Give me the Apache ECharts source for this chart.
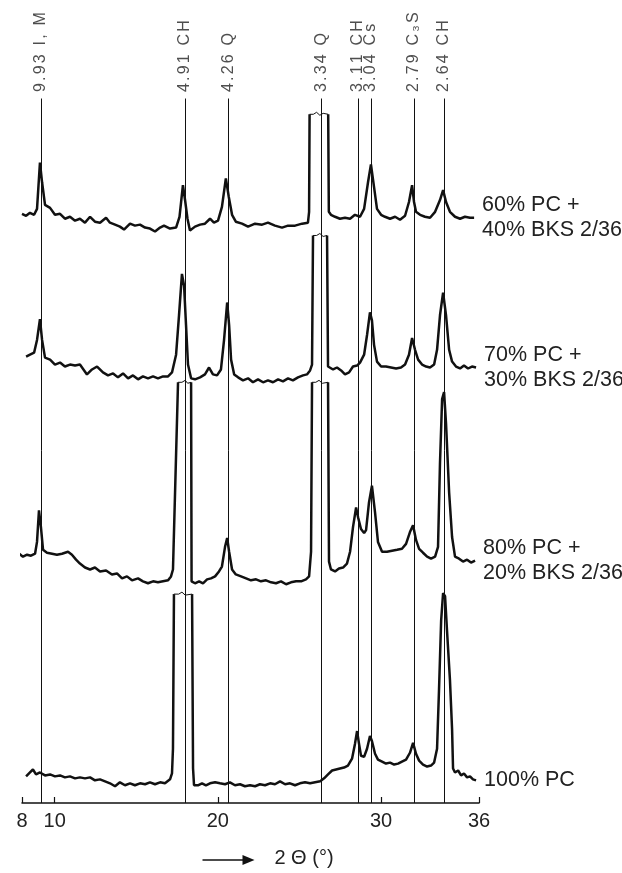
<!DOCTYPE html>
<html>
<head>
<meta charset="utf-8">
<script src="https://cdn.jsdelivr.net/npm/echarts@6/dist/echarts.min.js"></script>
<style>
html, body { margin: 0; padding: 0; background: #fff; }
#main { width: 622px; height: 873px; }
</style>
</head>
<body>
<div id="main"></div>
<script>
// x ticks (2 theta) and reflection positions
var xTicks = [8, 10, 20, 30, 36];
var peakPos = [9.16, 17.99, 20.66, 26.36, 28.59, 29.38, 32.02, 33.86];
var peakNames = ['9.93 I, M', '4.91 CH', '4.26 Q', '3.34 Q', '3.11 CH', '3.04 Cs', '2.79 C\u2083S', '2.64 CH'];
var traceNames = ['60% PC +\n40% BKS 2/36', '70% PC +\n30% BKS 2/36', '80% PC +\n20% BKS 2/36', '100% PC'];

// intensity (stacked, arbitrary units); null = cut peak
var pc60 = [[8.0,598],[8.25,596],[8.49,599],[8.74,597],[8.92,603],[9.10,650],[9.23,630],[9.41,607],[9.72,604],[10.02,597],[10.33,598],[10.63,593],[10.94,595],[11.25,591],[11.55,593],[11.86,589],[12.17,595],[12.47,590],[12.78,589],[13.15,594],[13.39,589],[13.70,587],[14.0,585],[14.25,582],[14.62,588],[14.92,586],[15.23,587],[15.54,584],[15.84,583],[16.15,580],[16.46,584],[16.70,586],[17.07,583],[17.44,584],[17.65,595],[17.86,627],[17.99,612],[18.14,593],[18.29,581],[18.60,585],[18.91,587],[19.21,588],[19.52,593],[19.76,589],[20.01,591],[20.25,605],[20.49,634],[20.67,615],[20.87,597],[21.10,590],[21.48,588],[21.85,585],[22.28,588],[22.71,587],[23.07,589],[23.50,586],[23.93,584],[24.30,586],[24.73,586],[25.16,588],[25.52,589],[25.59,600],[25.62,699],[26.2,null],[26.76,699],[26.80,600],[26.93,597],[27.18,595],[27.48,593],[27.79,594],[28.10,593],[28.40,597],[28.71,595],[28.96,603],[29.20,630],[29.38,648],[29.57,625],[29.75,603],[30.0,597],[30.24,595],[30.55,593],[30.86,595],[31.16,592],[31.47,596],[31.71,610],[31.90,627],[32.02,610],[32.14,600],[32.39,597],[32.69,595],[33.0,594],[33.31,600],[33.61,612],[33.80,622],[33.98,610],[34.22,600],[34.53,595],[34.84,593],[35.14,595],[35.45,594],[35.70,594]];

var pc70 = [[8.25,453],[8.49,455],[8.74,457],[8.92,470],[9.10,491],[9.23,470],[9.41,452],[9.72,450],[10.02,445],[10.33,447],[10.63,443],[10.94,445],[11.25,444],[11.55,445],[11.98,435],[12.29,440],[12.60,443],[12.96,437],[13.27,434],[13.58,436],[13.88,432],[14.19,436],[14.50,431],[14.80,434],[15.11,430],[15.41,433],[15.72,431],[16.03,433],[16.33,431],[16.64,433],[16.95,433],[17.19,437],[17.44,455],[17.62,495],[17.80,537],[17.93,525],[18.05,485],[18.17,445],[18.36,431],[18.60,430],[18.91,432],[19.21,435],[19.46,442],[19.70,435],[19.95,434],[20.19,440],[20.38,470],[20.57,508],[20.69,485],[20.81,450],[21.0,435],[21.24,432],[21.54,429],[21.85,431],[22.15,427],[22.46,430],[22.77,427],[23.07,429],[23.38,427],[23.69,430],[23.99,428],[24.30,431],[24.60,429],[24.91,432],[25.22,434],[25.46,435],[25.65,439],[25.77,445],[25.83,576],[26.2,null],[26.69,576],[26.75,443],[26.81,443],[27.06,440],[27.30,442],[27.55,439],[27.79,435],[28.04,437],[28.28,443],[28.53,444],[28.71,447],[28.96,455],[29.14,475],[29.32,498],[29.44,490],[29.57,465],[29.75,448],[30.0,443],[30.30,443],[30.61,442],[30.92,441],[31.22,442],[31.47,445],[31.71,455],[31.90,472],[32.08,460],[32.27,450],[32.51,445],[32.76,443],[33.0,442],[33.25,445],[33.43,460],[33.61,495],[33.80,518],[33.98,495],[34.17,460],[34.35,448],[34.59,443],[34.84,441],[35.08,444],[35.33,441],[35.57,443],[35.82,442]];

var pc80 = [[6.84,252],[7.08,257],[7.33,253],[7.57,251],[7.82,253],[8.06,250],[8.31,252],[8.55,251],[8.80,253],[8.92,265],[9.04,297],[9.16,280],[9.29,257],[9.53,254],[9.84,253],[10.14,252],[10.45,253],[10.82,255],[11.06,252],[11.31,247],[11.55,243],[11.86,239],[12.17,237],[12.47,239],[12.78,235],[13.15,236],[13.51,232],[13.82,233],[14.13,228],[14.43,230],[14.74,226],[15.11,228],[15.41,225],[15.72,223],[16.03,225],[16.33,224],[16.64,225],[16.95,226],[17.13,230],[17.25,237],[17.56,427],[18.0,null],[18.36,427],[18.39,225],[18.60,223],[18.85,225],[19.09,223],[19.34,227],[19.58,228],[19.83,230],[20.07,235],[20.25,240],[20.44,260],[20.57,269],[20.69,255],[20.87,237],[21.10,232],[21.42,230],[21.73,228],[22.03,226],[22.34,227],[22.64,225],[22.95,226],[23.26,224],[23.56,223],[23.87,225],[24.18,222],[24.48,224],[24.79,225],[25.10,225],[25.40,227],[25.59,230],[25.71,255],[25.77,427],[26.2,null],[26.75,427],[26.81,245],[26.93,237],[27.18,235],[27.42,238],[27.67,239],[27.91,243],[28.10,255],[28.28,280],[28.47,300],[28.59,290],[28.77,278],[28.96,274],[29.08,277],[29.26,305],[29.44,322],[29.63,295],[29.81,265],[30.06,255],[30.36,255],[30.67,256],[30.98,257],[31.28,258],[31.53,263],[31.77,275],[31.96,282],[32.14,267],[32.33,258],[32.57,254],[32.82,250],[33.06,248],[33.31,250],[33.49,260],[33.61,345],[33.74,410],[33.86,417],[33.98,385],[34.17,315],[34.35,270],[34.53,250],[34.78,248],[35.02,245],[35.27,247],[35.51,244],[35.76,246]];

var pc100 = [[8.25,27],[8.49,31],[8.67,34],[8.86,29],[9.10,31],[9.41,28],[9.72,29],[10.02,27],[10.33,28],[10.63,26],[10.94,27],[11.25,25],[11.55,26],[11.86,25],[12.17,26],[12.47,23],[12.78,24],[13.09,22],[13.39,20],[13.70,17],[14.0,21],[14.31,18],[14.62,20],[14.92,18],[15.23,20],[15.54,19],[15.84,21],[16.15,19],[16.46,21],[16.76,20],[17.07,24],[17.19,30],[17.25,55],[17.31,212],[17.8,null],[18.42,212],[18.48,35],[18.54,18],[18.78,18],[19.03,20],[19.27,18],[19.52,20],[19.83,21],[20.13,20],[20.44,19],[20.74,21],[21.05,18],[21.36,19],[21.66,17],[21.97,18],[22.28,17],[22.58,19],[22.89,18],[23.20,20],[23.50,19],[23.81,22],[24.12,19],[24.42,20],[24.73,18],[25.03,20],[25.34,21],[25.65,20],[25.96,21],[26.27,22],[26.51,25],[26.75,29],[27.0,33],[27.24,34],[27.48,35],[27.73,36],[27.97,38],[28.22,45],[28.40,60],[28.53,73],[28.65,60],[28.77,48],[28.96,47],[29.14,55],[29.32,68],[29.44,63],[29.63,50],[29.81,44],[30.06,42],[30.30,40],[30.55,41],[30.80,39],[31.04,40],[31.28,42],[31.53,44],[31.77,51],[31.96,61],[32.14,50],[32.33,43],[32.57,39],[32.82,37],[33.06,38],[33.25,41],[33.43,55],[33.55,115],[33.68,185],[33.80,213],[33.92,210],[34.04,175],[34.22,125],[34.35,75],[34.41,35],[34.53,31],[34.72,33],[34.90,28],[35.08,30],[35.27,26],[35.45,27],[35.63,24],[35.82,23]];

// tops of the cut-off peaks (thin break marks)
var breaks = [
    [[25.62,699],[25.85,699],[26.05,701],[26.25,698],[26.45,700],[26.76,699]],
    [[25.83,576],[26.05,576],[26.25,578],[26.45,575],[26.69,576]],
    [[17.56,427],[17.8,427],[18.0,429],[18.15,426],[18.36,427]],
    [[25.77,427],[26.0,427],[26.2,429],[26.4,426],[26.75,427]],
    [[17.31,212],[17.6,212],[17.8,214],[18.0,211],[18.42,212]]
];

var font = 'Liberation Sans, Arial, sans-serif';
var textColor = '#222';
var lineTop = 715;

var myChart = echarts.init(document.getElementById('main'));

// slightly letter spaced label text (rich tokens, one per char)
function spaced(str) {
    return str.split('').map(function(c) { return '{s|' + c + '}'; }).join('');
}

var series = [];
// reference lines + rotated labels
series.push({
    type: 'scatter',
    silent: true,
    symbolSize: 1,
    itemStyle: { color: 'transparent' },
    data: peakPos.map(function(x, i) {
        return { value: [x, lineTop], name: peakNames[i] };
    }),
    label: {
        show: true,
        formatter: function(p) { return spaced(p.name); },
        position: 'top',
        distance: 6,
        rotate: 90,
        align: 'left',
        verticalAlign: 'middle',
        rich: {
            s: { fontSize: 16, fontFamily: font, color: textColor, padding: [0, 2.2, 0, 0] }
        }
    },
    markLine: {
        silent: true,
        symbol: 'none',
        label: { show: false },
        lineStyle: { color: '#111', width: 1, type: 'solid' },
        data: peakPos.map(function(x) {
            return [{ coord: [x, 0] }, { coord: [x, lineTop] }];
        })
    },
    z: 1
});

[pc60, pc70, pc80, pc100].forEach(function(d, i) {
    series.push({
        name: traceNames[i],
        type: 'line',
        data: d,
        symbol: 'none',
        clip: false,
        connectNulls: false,
        lineStyle: { color: '#111', width: 2.5 },
        endLabel: {
            show: true,
            formatter: traceNames[i],
            distance: 8,
            fontSize: 21.5,
            lineHeight: 25,
            fontFamily: font,
            color: textColor
        },
        z: 3
    });
});

breaks.forEach(function(d) {
    series.push({
        type: 'line',
        data: d,
        symbol: 'none',
        lineStyle: { color: '#111', width: 1 },
        z: 3
    });
});

var option = {
    animation: false,
    backgroundColor: '#fff',
    grid: { left: 22, right: 143, top: 0, bottom: 58 },
    xAxis: {
        type: 'value',
        min: 8,
        max: 36,
        name: '2 \u0398 (\u00b0)',
        nameLocation: 'middle',
        nameGap: 45,
        nameTextStyle: { fontSize: 20, fontFamily: font, color: textColor, padding: [0, 0, 0, 107] },
        axisLine: { lineStyle: { color: '#111', width: 1.5 } },
        axisTick: { show: true, inside: true, length: 6, customValues: xTicks, lineStyle: { color: '#111', width: 1.2 } },
        axisLabel: { customValues: xTicks, fontSize: 20, fontFamily: font, color: textColor, margin: 8 },
        splitLine: { show: false }
    },
    yAxis: {
        type: 'value',
        min: 0,
        max: 815,
        show: false
    },
    graphic: [{
        type: 'group',
        left: 200,
        top: 855,
        children: [
            { type: 'line', shape: { x1: 0, y1: 5, x2: 42, y2: 5 }, style: { stroke: '#111', lineWidth: 1.5 } },
            { type: 'polygon', shape: { points: [[40, 0], [52, 5], [40, 10]] }, style: { fill: '#111' } }
        ]
    }],
    series: series
};

myChart.setOption(option);
</script>
</body>
</html>
